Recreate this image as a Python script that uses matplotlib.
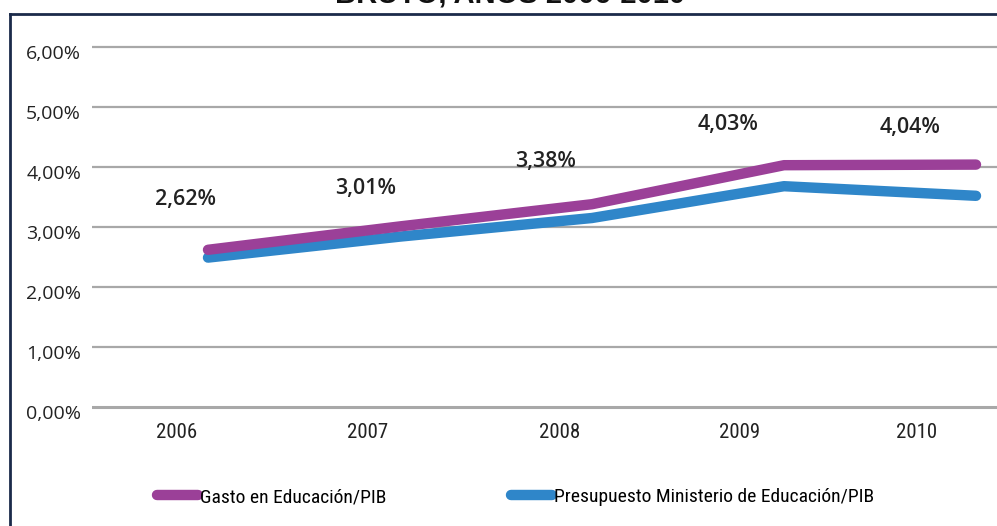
import matplotlib
matplotlib.use("Agg")
import matplotlib.pyplot as plt
from matplotlib import font_manager
from matplotlib.lines import Line2D

# Datos
years = ["2006", "2007", "2008", "2009", "2010"]
gasto_pib = [2.62, 3.01, 3.38, 4.03, 4.04]
presupuesto_pib = [2.49, 2.84, 3.15, 3.68, 3.52]
value_labels = ["2,62%", "3,01%", "3,38%", "4,03%", "4,04%"]
yticks = [0, 1, 2, 3, 4, 5, 6]
ytick_labels = ["0,00%", "1,00%", "2,00%", "3,00%", "4,00%", "5,00%", "6,00%"]
series_names = ["Gasto en Educación/PIB",
                "Presupuesto Ministerio de Educación/PIB"]

PURPLE = "#9B4098"
BLUE = "#2F86C9"
GRID = "#A8A8A8"
TEXT = "#222222"


def narrow_font():
    """Busca una fuente estrecha instalada (años y leyenda son condensados)."""
    fonts = font_manager.fontManager.ttflist
    names = {f.name for f in fonts}
    for cand in ("Liberation Sans Narrow", "Roboto Condensed",
                 "Open Sans Condensed", "Noto Sans Condensed",
                 "DejaVu Sans Condensed", "Arial Narrow"):
        if cand in names:
            return {"family": cand}
    for f in fonts:
        if ("Narrow" in f.name or "Condensed" in f.name) and "Mono" not in f.name:
            return {"family": f.name}
    for f in fonts:
        if f.name == "DejaVu Sans" and f.stretch in ("condensed", "semi-condensed"):
            return {"family": "DejaVu Sans", "stretch": "condensed"}
    return {"family": "Lato"}


NARROW = narrow_font()

W, H = 997, 526
fig = plt.figure(figsize=(W / 100, H / 100), dpi=100)
fig.patch.set_facecolor("white")

# ejes: 0% en y=407 px, 60 px por punto porcentual; puntos desde x=208 cada 192 px
ax = fig.add_axes([92 / W, 1 - 419 / H, (W - 92) / W, 390 / H])
ax.set_xlim(-(208 - 92) / 192, (W - 208) / 192)
ax.set_ylim(-0.2, 6.3)
ax.patch.set_alpha(0)

for y in yticks:
    ax.axhline(y, color=GRID, lw=2.2 if y == 0 else 1.6, zorder=1)

x = list(range(len(years)))
ax.plot(x, gasto_pib, color=PURPLE, lw=7.5, solid_capstyle="round",
        solid_joinstyle="round", zorder=3)
ax.plot(x, presupuesto_pib, color=BLUE, lw=7.5, solid_capstyle="round",
        solid_joinstyle="round", zorder=2)

# etiquetas de valor (desplazadas arriba a la izquierda, como en el original)
label_dx = [-22, -34, -46, -56, -66]
label_dy = [46, 34, 39, 37, 33]
for xi, yi, txt, dx, dy in zip(x, gasto_pib, value_labels, label_dx, label_dy):
    ax.annotate(txt, (xi, yi), xytext=(dx * 0.72, dy * 0.72 + 3),
                textcoords="offset points", ha="center", va="center",
                fontsize=15.5, fontfamily="Open Sans", fontweight="semibold",
                color=TEXT, zorder=4)

ax.set_yticks([])
for y, lab in zip(yticks, ytick_labels):
    fig.text(81 / W, 1 - (407 - 60 * y + 7) / H, lab, ha="right", va="center",
             fontsize=14, fontfamily="Open Sans", color=TEXT)

year_px = [177, 368, 560, 740, 917]
ax.set_xticks([(p - 208) / 192 for p in year_px])
ax.set_xticklabels(years, color=TEXT, fontsize=15, **NARROW)
ax.tick_params(axis="x", length=0, pad=3)
for s in ax.spines.values():
    s.set_visible(False)

handles = [Line2D([], [], color=PURPLE, lw=7.5, solid_capstyle="round"),
           Line2D([], [], color=BLUE, lw=7.5, solid_capstyle="round")]
fig.legend(handles, series_names,
           loc="center left", bbox_to_anchor=(157 / W, 1 - 497 / H), ncol=2,
           frameon=False, handlelength=2.1, handletextpad=0.12,
           columnspacing=6.4, borderaxespad=0, borderpad=0,
           prop=dict(size=14, **NARROW))

# marco del recuadro (solo visible arriba y a la izquierda)
fig.add_artist(Line2D([10 / W, 10 / W], [0, 1 - 14 / H], color="#1B2A4A",
                      lw=2, transform=fig.transFigure))
fig.add_artist(Line2D([10 / W, 1], [1 - 14 / H, 1 - 14 / H], color="#1B2A4A",
                      lw=2, transform=fig.transFigure))

# título cortado en el borde superior
fig.text(510 / W, 1 - 4 / H, "BRUTO, AÑOS 2006-2010", ha="center",
         va="baseline", fontsize=21, fontweight="bold",
         fontfamily="Liberation Sans", color="#111111")

fig.savefig("out.png", dpi=100)
